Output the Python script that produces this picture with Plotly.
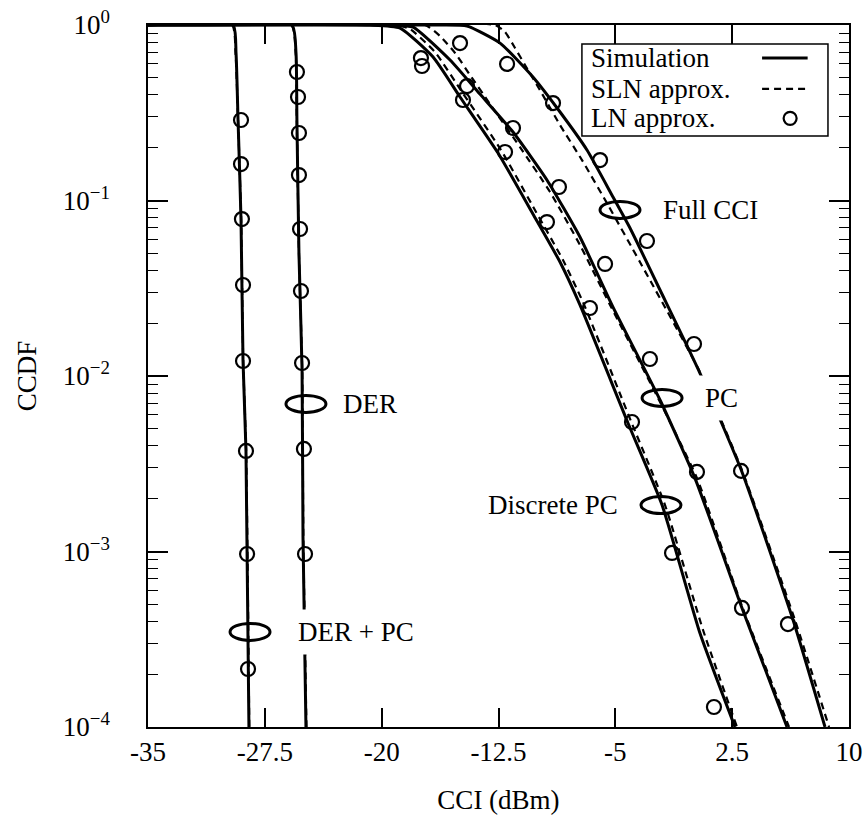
import math
import plotly.graph_objects as go

# ---------------- data (CCI in dBm, CCDF) ----------------
# DER + PC
der_pc_sim_x = [-35, -29.54, -29.35, -29.22, -29.03, -28.90, -28.71, -28.52]
der_pc_sim_y = [1, 1, 0.693, 0.2875, 0.0784, 0.01218, 0.00374, 1e-4]
der_pc_sln_x = [-35, -29.60, -29.38, -29.22, -29.02, -28.89, -28.70, -28.50]
der_pc_sln_y = [1, 1, 0.693, 0.2875, 0.0784, 0.01218, 0.00374, 1e-4]
der_pc_ln_x = [-29.03, -29.03, -28.97, -28.90, -28.90, -28.71, -28.64, -28.58]
der_pc_ln_y = [0.2875, 0.1614, 0.0784, 0.0330, 0.01218, 0.00374, 0.000968, 0.000214]

# DER
der_sim_x = [-35, -25.76, -25.50, -25.44, -25.31, -25.11, -25.05, -24.86]
der_sim_y = [1, 1, 0.693, 0.2875, 0.0502, 0.01082, 0.00121, 1e-4]
der_sln_x = [-35, -25.80, -25.52, -25.45, -25.31, -25.10, -25.03, -24.83]
der_sln_y = [1, 1, 0.693, 0.2875, 0.0502, 0.01082, 0.00121, 1e-4]
der_ln_x = [-25.44, -25.37, -25.31, -25.31, -25.24, -25.18, -25.11, -24.99, -24.92]
der_ln_y = [0.540, 0.389, 0.2425, 0.1397, 0.0688, 0.0305, 0.01186, 0.00384, 0.000968]

# Discrete PC
dpc_sim_x = [-35, -20.75, -18.82, -16.70, -14.97, -12.53, -10.29, -8.55, -7.27, -4.19, -2.00, 0.43, 2.68]
dpc_sim_y = [1, 1, 0.961, 0.657, 0.389, 0.1865, 0.0838, 0.0446, 0.0254, 0.0054, 0.00184, 0.000343, 1e-4]
dpc_sln_x = [-35, -19.14, -18.18, -16.58, -14.84, -12.34, -10.09, -8.36, -7.08, -4.00, -1.81, 0.63, 2.81]
dpc_sln_y = [1, 1, 0.949, 0.702, 0.415, 0.194, 0.086, 0.0458, 0.0264, 0.00554, 0.00184, 0.000357, 1e-4]
dpc_ln_x = [-17.41, -14.78, -12.08, -9.39, -6.63, -3.93, -1.36, 1.33]
dpc_ln_y = [0.584, 0.374, 0.189, 0.0754, 0.0244, 0.00547, 0.000981, 0.000130]

# PC
pc_sim_x = [-35, -19.47, -17.99, -15.61, -13.69, -11.57, -9.39, -7.27, -5.15, -2.13, 0.11, 3.13, 6.02]
pc_sim_y = [1, 1, 0.974, 0.632, 0.404, 0.2456, 0.1309, 0.0619, 0.0247, 0.0073, 0.00262, 0.000477, 1e-4]
pc_sln_x = [-35, -17.22, -16.26, -15.29, -14.33, -13.05, -11.12, -9.19, -7.27, -5.34, -2.13, 0.24, 3.13, 6.15]
pc_sln_y = [1, 1, 0.866, 0.693, 0.519, 0.355, 0.2017, 0.1118, 0.0558, 0.0254, 0.00711, 0.00262, 0.000489, 1e-4]
pc_ln_x = [-17.48, -14.52, -11.57, -8.62, -5.66, -2.78, 0.24, 3.13]
pc_ln_y = [0.648, 0.449, 0.259, 0.1194, 0.0435, 0.0125, 0.00284, 0.000477]

# Full CCI
full_sim_x = [-35, -16.26, -14.52, -12.40, -10.29, -8.74, -6.82, -5.15, -4.06, -2.13, 0.43, 3.13, 6.41, 8.46]
full_sim_y = [1, 1, 0.987, 0.789, 0.5055, 0.3366, 0.194, 0.1047, 0.0697, 0.0309, 0.0104, 0.00284, 0.000407, 1e-4]
full_sln_x = [-35, -12.72, -12.08, -11.44, -10.80, -9.84, -8.55, -7.14, -5.47, -3.42, 0.43, 3.13, 6.53, 8.72]
full_sln_y = [1, 1, 0.912, 0.740, 0.592, 0.426, 0.269, 0.170, 0.0943, 0.0446, 0.01054, 0.00291, 0.000407, 1e-4]
full_ln_x = [-14.97, -11.95, -9.00, -5.98, -2.97, 0.05, 3.07, 6.08]
full_ln_y = [0.789, 0.600, 0.359, 0.170, 0.0588, 0.01522, 0.00288, 0.000386]

x_ticks = [-35, -27.5, -20, -12.5, -5, 2.5, 10]
x_tick_labels = ["-35", "-27.5", "-20", "-12.5", "-5", "2.5", "10"]
y_ticks = [1e-4, 1e-3, 1e-2, 1e-1, 1]
y_tick_labels = ["10<sup>\u22124</sup>", "10<sup>\u22123</sup>", "10<sup>\u22122</sup>",
                 "10<sup>\u22121</sup>", "10<sup>0</sup>"]

# curve labels: (text, ellipse x, ellipse ccdf, text x, side)
labels = [
    ("Full CCI", -4.70, 0.0883, -2.45, "left"),
    ("PC", -2.00, 0.0075, 0.24, "left"),
    ("Discrete PC", -2.07, 0.00184, -4.32, "right"),
    ("DER", -24.86, 0.00693, -23.0, "left"),
    ("DER + PC", -28.45, 0.000348, -25.88, "left"),
]

FONT = "Liberation Serif"
FS = 27

fig = go.Figure()

def add_group(sx, sy, dx, dy, lx, ly):
    fig.add_trace(go.Scatter(x=sx, y=sy, mode="lines", showlegend=False,
                             line=dict(color="black", width=3, shape="spline", smoothing=0.5)))
    fig.add_trace(go.Scatter(x=dx, y=dy, mode="lines", showlegend=False,
                             line=dict(color="black", width=2.2, dash="7px,5px",
                                       shape="spline", smoothing=0.5)))
    fig.add_trace(go.Scatter(x=lx, y=ly, mode="markers", showlegend=False,
                             marker=dict(symbol="circle-open", size=14, color="black",
                                         line=dict(width=2.2, color="black"))))

add_group(der_pc_sim_x, der_pc_sim_y, der_pc_sln_x, der_pc_sln_y, der_pc_ln_x, der_pc_ln_y)
add_group(der_sim_x, der_sim_y, der_sln_x, der_sln_y, der_ln_x, der_ln_y)
add_group(dpc_sim_x, dpc_sim_y, dpc_sln_x, dpc_sln_y, dpc_ln_x, dpc_ln_y)
add_group(pc_sim_x, pc_sim_y, pc_sln_x, pc_sln_y, pc_ln_x, pc_ln_y)
add_group(full_sim_x, full_sim_y, full_sln_x, full_sln_y, full_ln_x, full_ln_y)

# invisible trace on a right-hand y axis so the minor ticks also appear on the right
fig.add_trace(go.Scatter(x=[-35], y=[1], yaxis="y2", mode="markers", showlegend=False,
                         marker=dict(opacity=0), hoverinfo="skip"))

shapes = []
annotations = []
for text, ex, ey, tx, side in labels:
    frac = (math.log10(ey) + 4) / 4
    shapes.append(dict(type="circle", xref="x", yref="y domain",
                       xsizemode="pixel", ysizemode="pixel",
                       xanchor=ex, yanchor=frac, x0=-20, x1=20, y0=-8.5, y1=8.5,
                       line=dict(color="black", width=3), layer="above"))
    white = text in ("PC", "DER + PC")
    annotations.append(dict(x=tx, y=math.log10(ey), xref="x", yref="y", text=text,
                            showarrow=False, xanchor=side, yanchor="middle",
                            font=dict(family=FONT, size=FS, color="black"),
                            bgcolor="white" if white else "rgba(0,0,0,0)",
                            borderpad=7))

# legend (text left, symbol right)
shapes.append(dict(type="rect", xref="paper", yref="paper", x0=0.619, x1=0.970,
                   y0=0.842, y1=0.973, line=dict(color="black", width=1.5),
                   fillcolor="white", layer="above"))
shapes.append(dict(type="line", xref="paper", yref="paper", x0=0.876, x1=0.941,
                   y0=0.953, y1=0.953, line=dict(color="black", width=3), layer="above"))
shapes.append(dict(type="line", xref="paper", yref="paper", x0=0.876, x1=0.941,
                   y0=0.909, y1=0.909, line=dict(color="black", width=2.2, dash="7px,5px"),
                   layer="above"))
shapes.append(dict(type="circle", xref="paper", yref="paper", xsizemode="pixel",
                   ysizemode="pixel", xanchor=0.916, yanchor=0.867, x0=-6.5, x1=6.5,
                   y0=-6.5, y1=6.5, line=dict(color="black", width=2.2), layer="above"))
for txt, yy in [("Simulation", 0.953), ("SLN approx.", 0.909), ("LN approx.", 0.867)]:
    annotations.append(dict(x=0.629, y=yy, xref="paper", yref="paper", text=txt,
                            showarrow=False, xanchor="left", yanchor="middle",
                            font=dict(family=FONT, size=FS, color="black")))

minor_vals = [m * 10 ** e for e in range(-4, 0) for m in range(2, 10)]
minor_cfg = dict(tickvals=minor_vals, ticks="inside", ticklen=10,
                 tickwidth=1.2, tickcolor="black", showgrid=False)

fig.update_layout(
    width=866, height=816,
    margin=dict(l=148, r=17, t=25, b=89, autoexpand=False),
    plot_bgcolor="white", paper_bgcolor="white",
    font=dict(family=FONT, size=FS, color="black"),
    shapes=shapes, annotations=annotations, showlegend=False,
    xaxis=dict(range=[-35, 10], tickvals=x_ticks, ticktext=x_tick_labels,
               ticks="inside", ticklen=19, tickwidth=1.5, tickcolor="black",
               showline=True, linewidth=1.5, linecolor="black", mirror="ticks",
               showgrid=False, zeroline=False, automargin=False,
               ticklabelstandoff=0, ticklabeloverflow="allow",
               tickfont=dict(family=FONT, size=FS),
               title=dict(text="CCI (dBm)", font=dict(family=FONT, size=FS), standoff=24)),
    yaxis=dict(type="log", range=[-4, 0.0001], tickvals=y_ticks, ticktext=y_tick_labels,
               ticks="inside", ticklen=20, tickwidth=1.5, tickcolor="black",
               showline=True, linewidth=1.5, linecolor="black", mirror="ticks",
               showgrid=False, zeroline=False, automargin=False,
               ticklabelstandoff=31, ticklabeloverflow="allow",
               tickfont=dict(family=FONT, size=FS),
               minor=minor_cfg,
               title=dict(text="CCDF", font=dict(family=FONT, size=FS), standoff=18)),
    yaxis2=dict(type="log", range=[-4, 0.0001], overlaying="y", side="right",
                tickvals=y_ticks, ticks="inside", ticklen=20, tickwidth=1.5,
                tickcolor="black", showticklabels=False, showgrid=False,
                zeroline=False, automargin=False, minor=minor_cfg),
)

fig.write_html("out.html", config={"displayModeBar": False},
               post_script="document.body.style.margin='0px';")
